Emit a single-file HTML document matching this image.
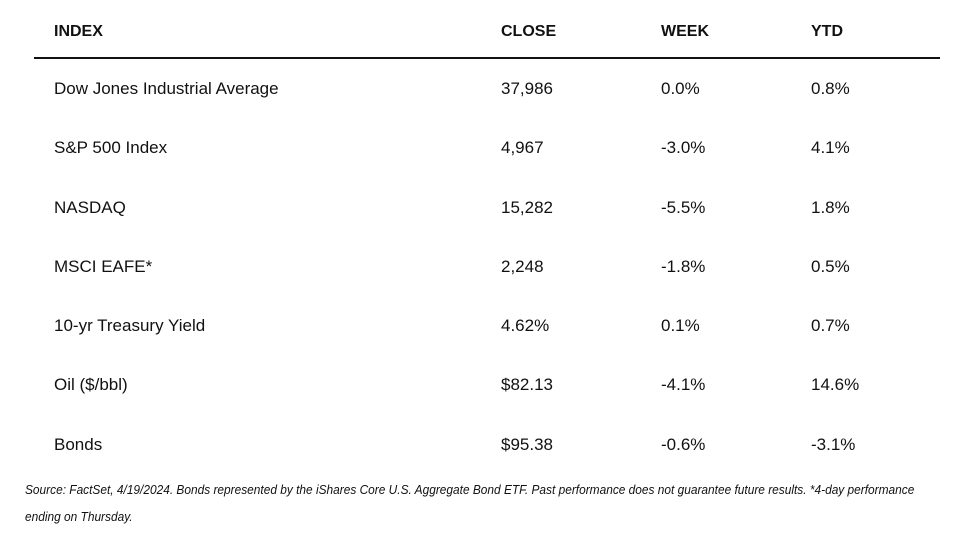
<!DOCTYPE html>
<html><head><style>
body{margin:0;width:970px;height:541px;background:#fff;position:relative;overflow:hidden;font-family:"Liberation Sans",sans-serif;color:#111}
.t{position:absolute;font-size:17px;line-height:20px;white-space:nowrap}
.h{font-weight:bold;font-size:16px}
.line{position:absolute;left:34px;top:57px;width:906px;height:2px;background:#111}
.f{position:absolute;left:25px;font-size:13px;font-style:italic;white-space:nowrap;transform-origin:0 0;transform:scaleX(0.915);color:#111}
</style></head><body>
<div class="t h" style="left:54px;top:22px">INDEX</div>
<div class="t h" style="left:501px;top:22px">CLOSE</div>
<div class="t h" style="left:661px;top:22px">WEEK</div>
<div class="t h" style="left:811px;top:22px">YTD</div>
<div class="line"></div>

<div class="t" style="left:54px;top:79px">Dow Jones Industrial Average</div>
<div class="t" style="left:501px;top:79px">37,986</div>
<div class="t" style="left:661px;top:79px">0.0%</div>
<div class="t" style="left:811px;top:79px">0.8%</div>

<div class="t" style="left:54px;top:138px">S&amp;P 500 Index</div>
<div class="t" style="left:501px;top:138px">4,967</div>
<div class="t" style="left:661px;top:138px">-3.0%</div>
<div class="t" style="left:811px;top:138px">4.1%</div>

<div class="t" style="left:54px;top:198px">NASDAQ</div>
<div class="t" style="left:501px;top:198px">15,282</div>
<div class="t" style="left:661px;top:198px">-5.5%</div>
<div class="t" style="left:811px;top:198px">1.8%</div>

<div class="t" style="left:54px;top:257px">MSCI EAFE*</div>
<div class="t" style="left:501px;top:257px">2,248</div>
<div class="t" style="left:661px;top:257px">-1.8%</div>
<div class="t" style="left:811px;top:257px">0.5%</div>

<div class="t" style="left:54px;top:316px">10-yr Treasury Yield</div>
<div class="t" style="left:501px;top:316px">4.62%</div>
<div class="t" style="left:661px;top:316px">0.1%</div>
<div class="t" style="left:811px;top:316px">0.7%</div>

<div class="t" style="left:54px;top:375px">Oil ($/bbl)</div>
<div class="t" style="left:501px;top:375px">$82.13</div>
<div class="t" style="left:661px;top:375px">-4.1%</div>
<div class="t" style="left:811px;top:375px">14.6%</div>

<div class="t" style="left:54px;top:435px">Bonds</div>
<div class="t" style="left:501px;top:435px">$95.38</div>
<div class="t" style="left:661px;top:435px">-0.6%</div>
<div class="t" style="left:811px;top:435px">-3.1%</div>

<div class="f" style="top:482px">Source: FactSet, 4/19/2024. Bonds represented by the iShares Core U.S. Aggregate Bond ETF. Past performance does not guarantee future results. *4-day performance</div>
<div class="f" style="top:509px">ending on Thursday.</div>
</body></html>
